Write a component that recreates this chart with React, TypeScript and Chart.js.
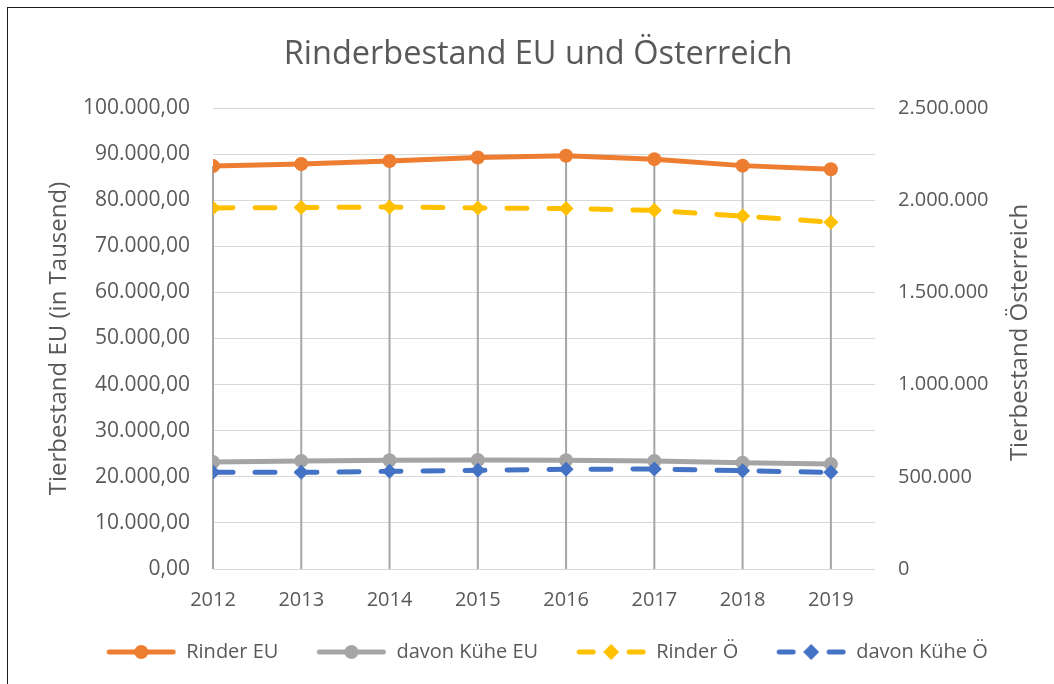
import React, { useEffect, useRef } from 'react';
import { Chart, registerables } from 'chart.js';

Chart.register(...registerables);

const FONT = "'Open Sans', 'Liberation Sans', sans-serif";
const TEXT_COLOR = '#595959';

// ---- data ----
const years = [2012, 2013, 2014, 2015, 2016, 2017, 2018, 2019];
const rinderEU = [87400, 87850, 88500, 89250, 89650, 88900, 87500, 86700];
const kueheEU = [23200, 23450, 23600, 23650, 23600, 23450, 23050, 22750];
const rinderAT = [1958000, 1960000, 1963000, 1958000, 1955000, 1945000, 1914000, 1881000];
const kueheAT = [524000, 524000, 530000, 535000, 541000, 542000, 533000, 524000];

const seriesNames = ['Rinder EU', 'davon Kühe EU', 'Rinder Ö', 'davon Kühe Ö'];
const seriesColors = ['#ED7D31', '#A5A5A5', '#FFC000', '#4472C4'];

const chartTitle = 'Rinderbestand EU und Österreich';
const leftAxisTitle = 'Tierbestand EU (in Tausend)';
const rightAxisTitle = 'Tierbestand Österreich';
const leftAxisMax = 100000;
const leftAxisStep = 10000;
const rightAxisMax = 2500000;
const rightAxisStep = 500000;

const ICON_LEAD = 18; // blank space before each legend icon (item spacing)

function fmtDE(v: number, dec: number): string {
  const fixed = Math.abs(v).toFixed(dec);
  const parts = fixed.split('.');
  const intStr = parts[0].replace(/\B(?=(\d{3})+(?!\d))/g, '.');
  return (v < 0 ? '-' : '') + (parts[1] ? intStr + ',' + parts[1] : intStr);
}

function makeIcon(color: string, dashed: boolean, marker: 'circle' | 'diamond') {
  const c = document.createElement('canvas');
  c.width = 70 + ICON_LEAD;
  c.height = 20;
  const g = c.getContext('2d')!;
  g.translate(ICON_LEAD, 0);
  g.strokeStyle = color;
  g.fillStyle = color;
  g.lineWidth = 5;
  g.lineCap = 'round';
  g.beginPath();
  if (dashed) {
    g.moveTo(3, 10);
    g.lineTo(17, 10);
    g.moveTo(53, 10);
    g.lineTo(67, 10);
  } else {
    g.moveTo(3, 10);
    g.lineTo(67, 10);
  }
  g.stroke();
  g.beginPath();
  if (marker === 'circle') {
    g.arc(35, 10, 7, 0, Math.PI * 2);
  } else {
    g.moveTo(35, 2);
    g.lineTo(43, 10);
    g.lineTo(35, 18);
    g.lineTo(27, 10);
    g.closePath();
  }
  g.fill();
  return c;
}

const dropLinesPlugin = {
  id: 'dropLines',
  beforeDatasetsDraw(chart: any) {
    const { ctx, chartArea } = chart;
    const metas = chart.data.datasets.map((_: any, i: number) => chart.getDatasetMeta(i));
    ctx.save();
    ctx.strokeStyle = '#A6A6A6';
    ctx.lineWidth = 2;
    years.forEach((_, j) => {
      let top = Infinity;
      let x = 0;
      metas.forEach((m: any) => {
        const p = m.data[j];
        if (p) {
          top = Math.min(top, p.y);
          x = p.x;
        }
      });
      ctx.beginPath();
      ctx.moveTo(x, top);
      ctx.lineTo(x, chartArea.bottom);
      ctx.stroke();
    });
    ctx.restore();
  },
};

const rightTitlePlugin = {
  id: 'rightTitle',
  afterDraw(chart: any) {
    const s = chart.scales.y1;
    const { ctx, chartArea } = chart;
    ctx.save();
    ctx.font = `24px ${FONT}`;
    ctx.fillStyle = TEXT_COLOR;
    ctx.textAlign = 'center';
    ctx.textBaseline = 'middle';
    ctx.translate(s.right - 34, (chartArea.top + chartArea.bottom) / 2 - 6);
    ctx.rotate(-Math.PI / 2);
    ctx.fillText(rightAxisTitle, 0, 0);
    ctx.restore();
  },
};

export default function App() {
  const canvasRef = useRef<HTMLCanvasElement | null>(null);

  useEffect(() => {
    if (!canvasRef.current) return;
    const icons = [
      makeIcon(seriesColors[0], false, 'circle'),
      makeIcon(seriesColors[1], false, 'circle'),
      makeIcon(seriesColors[2], true, 'diamond'),
      makeIcon(seriesColors[3], true, 'diamond'),
    ];
    const seriesValues = [rinderEU, kueheEU, rinderAT, kueheAT];
    const axisIds = ['y', 'y', 'y1', 'y1'];
    const dashed = [false, false, true, true];

    const datasets = seriesValues.map((vals, i) => ({
      label: seriesNames[i],
      data: years.map((yr, k) => ({ x: yr, y: vals[k] })),
      yAxisID: axisIds[i],
      borderColor: seriesColors[i],
      backgroundColor: seriesColors[i],
      borderWidth: 5,
      borderDash: dashed[i] ? [20, 22] : [],
      borderCapStyle: 'round' as const,
      borderJoinStyle: 'round' as const,
      pointStyle: dashed[i] ? 'rectRot' : 'circle',
      pointRadius: dashed[i] ? 7.5 : 7,
      pointBorderWidth: 0,
      pointBackgroundColor: seriesColors[i],
      tension: 0,
      order: 4 - i,
    }));

    const chart = new Chart(canvasRef.current, {
      type: 'line',
      data: { datasets } as any,
      options: {
        animation: false,
        responsive: true,
        maintainAspectRatio: false,
        devicePixelRatio: 1,
        layout: { padding: { left: 14, right: 0, top: 0, bottom: 12 } },
        plugins: {
          tooltip: { enabled: false },
          title: {
            display: true,
            text: chartTitle,
            color: TEXT_COLOR,
            font: { family: FONT, size: 32.5, weight: 'normal' },
            padding: { top: 27, bottom: 34 },
          },
          legend: {
            display: true,
            position: 'bottom',
            labels: {
              usePointStyle: true,
              pointStyleWidth: 70 + ICON_LEAD,
              padding: 20,
              color: TEXT_COLOR,
              font: { family: FONT, size: 20 },
              generateLabels: () =>
                icons.map((icon, i) => ({
                  text: seriesNames[i],
                  pointStyle: icon,
                  fillStyle: 'transparent',
                  strokeStyle: 'transparent',
                  lineWidth: 0,
                  hidden: false,
                  datasetIndex: i,
                  fontColor: TEXT_COLOR,
                })),
            },
          },
        },
        scales: {
          x: {
            type: 'linear',
            min: years[0],
            max: years[years.length - 1] + 0.5,
            afterBuildTicks: (s: any) => {
              s.ticks = years.map((v) => ({ value: v }));
            },
            afterFit: (s: any) => {
              s.height = 53;
            },
            ticks: {
              autoSkip: false,
              maxRotation: 0,
              padding: 19,
              color: TEXT_COLOR,
              font: { family: FONT, size: 20 },
              callback: (v: any) => String(v),
            },
            grid: { display: false, drawTicks: false },
            border: { display: false },
          },
          y: {
            type: 'linear',
            position: 'left',
            min: 0,
            max: leftAxisMax,
            afterFit: (s: any) => {
              s.width = 191;
            },
            ticks: {
              stepSize: leftAxisStep,
              padding: 23,
              color: TEXT_COLOR,
              font: { family: FONT, size: 21 },
              callback: (v: any) => fmtDE(Number(v), 2),
            },
            grid: { color: '#D9D9D9', lineWidth: 1, drawTicks: false },
            border: { display: false },
            title: {
              display: true,
              text: leftAxisTitle,
              color: TEXT_COLOR,
              font: { family: FONT, size: 24 },
              padding: { top: 23, bottom: 0 },
            },
          },
          y1: {
            type: 'linear',
            position: 'right',
            min: 0,
            max: rightAxisMax,
            afterFit: (s: any) => {
              s.width = 179;
            },
            ticks: {
              stepSize: rightAxisStep,
              padding: 23,
              color: TEXT_COLOR,
              font: { family: FONT, size: 20 },
              callback: (v: any) => fmtDE(Number(v), 0),
            },
            grid: { display: false, drawOnChartArea: false, drawTicks: false },
            border: { display: false },
          },
        },
      } as any,
      plugins: [dropLinesPlugin, rightTitlePlugin],
    });
    return () => chart.destroy();
  }, []);

  return (
    <div
      style={{
        position: 'fixed',
        left: 7,
        top: 7,
        width: 1047,
        height: 677,
        boxSizing: 'border-box',
        borderLeft: '1px solid #1a1a1a',
        borderTop: '1px solid #1a1a1a',
        background: '#fff',
      }}
    >
      <div style={{ position: 'relative', width: 1046, height: 676 }}>
        <canvas ref={canvasRef} />
      </div>
    </div>
  );
}
